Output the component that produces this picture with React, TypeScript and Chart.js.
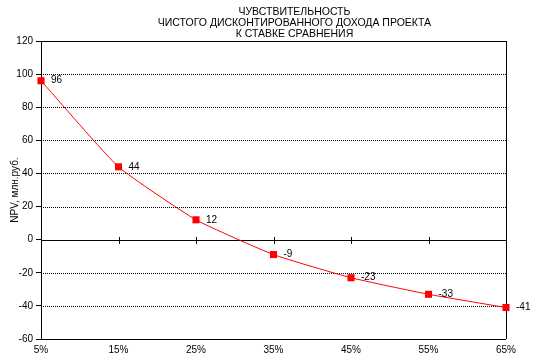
import React, { useEffect, useRef } from "react";
import { Chart, registerables } from "chart.js";

Chart.register(...registerables);

const categories = ["5%", "15%", "25%", "35%", "45%", "55%", "65%"];
const npvValues = [96, 44, 12, -9, -23, -33, -41];
const titleLines = [
  "ЧУВСТВИТЕЛЬНОСТЬ",
  "ЧИСТОГО ДИСКОНТИРОВАННОГО ДОХОДА ПРОЕКТА",
  "К СТАВКЕ СРАВНЕНИЯ",
];
const yAxisTitle = "NPV, млн.руб.";
const yMin = -60;
const yMax = 120;
const yStep = 20;

const FONT = "'Liberation Sans', Arial, sans-serif";

const framePlugin = {
  id: "frame",
  beforeDatasetsDraw(chart: any) {
    const { ctx, chartArea, scales } = chart;
    const y = scales.y;
    const x = scales.x;
    ctx.save();
    ctx.strokeStyle = "#000";
    ctx.lineWidth = 1;
    y.ticks.forEach((t: any) => {
      const py = Math.round(y.getPixelForValue(t.value)) + 0.5;
      ctx.beginPath();
      if (t.value === 0 || t.value === yMin || t.value === yMax) {
        ctx.setLineDash([]);
      } else {
        ctx.setLineDash([1, 1]);
      }
      ctx.moveTo(chartArea.left, py);
      ctx.lineTo(chartArea.right, py);
      ctx.stroke();
    });
    ctx.setLineDash([]);
    const rx = Math.round(chartArea.right) + 0.5;
    ctx.beginPath();
    ctx.moveTo(rx, chartArea.top);
    ctx.lineTo(rx, chartArea.bottom);
    ctx.stroke();
    // tick marks on zero line
    const y0 = Math.round(y.getPixelForValue(0)) + 0.5;
    categories.forEach((_, i) => {
      if (i === 0 || i === categories.length - 1) return;
      const px = Math.round(x.getPixelForValue(i)) + 0.5;
      ctx.beginPath();
      ctx.moveTo(px, y0 - 3.5);
      ctx.lineTo(px, y0 + 3.5);
      ctx.stroke();
    });
    ctx.restore();
  },
  afterDatasetsDraw(chart: any) {
    const { ctx } = chart;
    const meta = chart.getDatasetMeta(0);
    ctx.save();
    ctx.fillStyle = "#000";
    ctx.font = `10px ${FONT}`;
    ctx.textAlign = "left";
    ctx.textBaseline = "middle";
    meta.data.forEach((pt: any, i: number) => {
      ctx.fillText(String(npvValues[i]), pt.x + 10, pt.y);
    });
    // title
    const ca = chart.chartArea;
    const cx = ca.left + ca.width * 0.545;
    ctx.textAlign = "center";
    ctx.font = `10.5px ${FONT}`;
    titleLines.forEach((line, i) => {
      ctx.fillText(line, cx, 12 + i * 11);
    });
    ctx.restore();
  },
};

export default function App() {
  const ref = useRef<HTMLCanvasElement>(null);
  useEffect(() => {
    document.body.style.margin = "0";
    const canvas = ref.current!;
    const chart = new Chart(canvas, {
      type: "line",
      data: {
        labels: categories,
        datasets: [
          {
            data: npvValues,
            borderColor: "#ff0000",
            backgroundColor: "#ff0000",
            borderWidth: 1,
            tension: 0.15,
            pointStyle: "rect",
            pointRadius: 5,
            pointHoverRadius: 5,
            pointBorderWidth: 0,
            fill: false,
          },
        ],
      },
      options: {
        responsive: false,
        animation: false,
        layout: { padding: { top: 41, right: 27, left: 0, bottom: 0 } },
        plugins: {
          legend: { display: false },
          tooltip: { enabled: false },
          title: { display: false },
        },
        scales: {
          x: {
            type: "category",
            offset: false,
            grid: { display: false, drawTicks: false },
            border: { display: false },
            ticks: {
              color: "#000",
              font: { family: FONT, size: 10 },
              padding: 5,
              autoSkip: false,
              maxRotation: 0,
            },
            afterFit(s: any) {
              s.height = 20;
            },
          },
          y: {
            min: yMin,
            max: yMax,
            ticks: {
              stepSize: yStep,
              color: "#000",
              font: { family: FONT, size: 10 },
              padding: 3,
            },
            grid: {
              drawOnChartArea: false,
              drawTicks: true,
              tickLength: 5,
              color: "#000",
              tickColor: "#000",
            },
            border: { display: true, color: "#000", width: 1 },
            title: {
              display: true,
              text: yAxisTitle,
              color: "#000",
              font: { family: FONT, size: 10 },
              padding: { top: 9, bottom: 0 },
            },
            afterFit(s: any) {
              s.width = 41;
            },
          },
        },
      },
      plugins: [framePlugin],
    } as any);
    return () => chart.destroy();
  }, []);
  return <canvas ref={ref} width={533} height={359} />;
}
